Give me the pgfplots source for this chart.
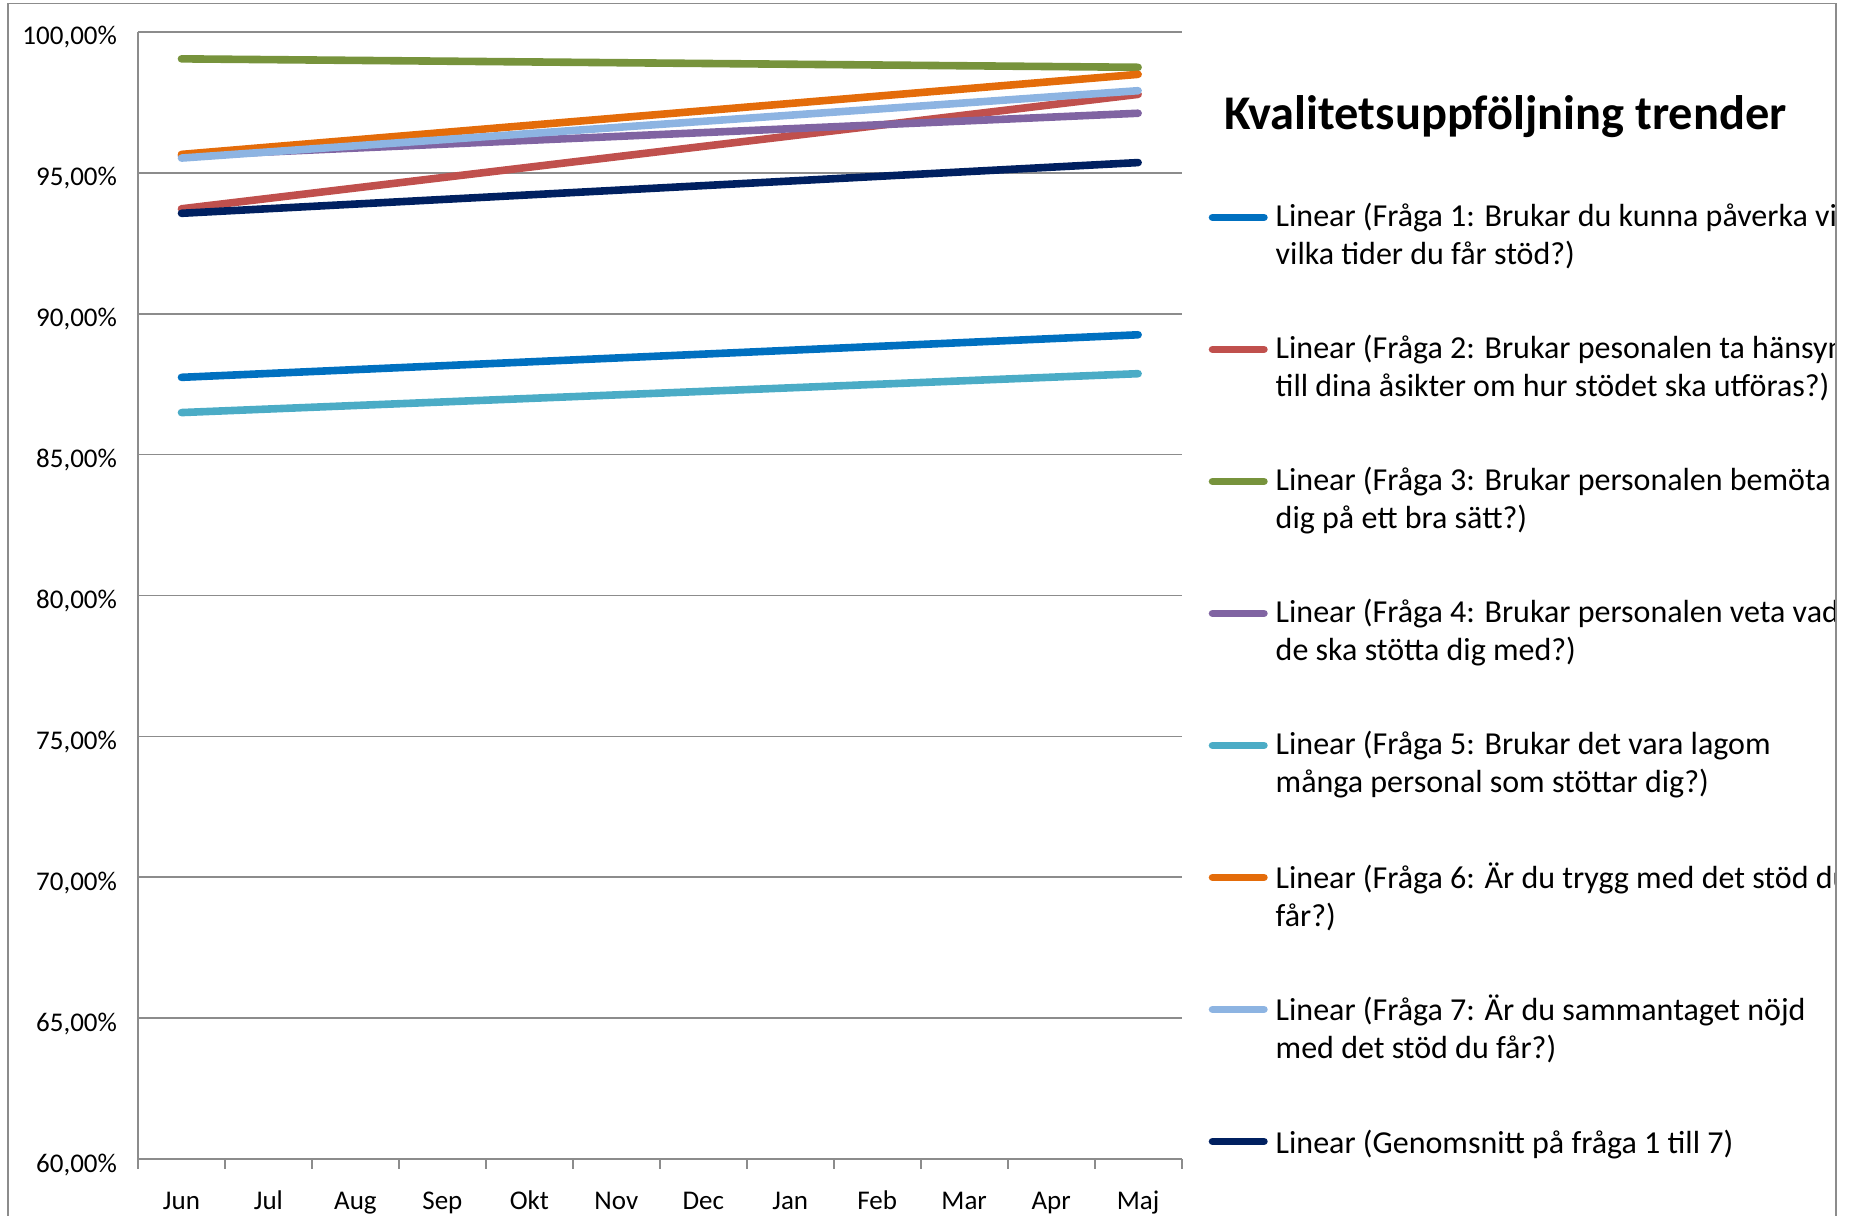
\documentclass[border=0pt]{standalone}
\usepackage{fontspec}
\setmainfont{Carlito}
\usepackage{pgfplots}
\pgfplotsset{compat=1.18}
\definecolor{q1}{HTML}{0070C0}
\definecolor{q2}{HTML}{C0504D}
\definecolor{q3}{HTML}{77933C}
\definecolor{q4}{HTML}{8064A2}
\definecolor{q5}{HTML}{4BACC6}
\definecolor{q6}{HTML}{E46C0A}
\definecolor{q7}{HTML}{8DB4E2}
\definecolor{avg}{HTML}{002060}
\definecolor{gridgray}{HTML}{8C8C8C}
\begin{document}
\begin{tikzpicture}
\useasboundingbox (0,0) rectangle (924.5pt,608pt);
\begin{scope}
\clip (0,0) rectangle (917.5pt,608pt);
\begin{axis}[
  at={(69pt,28.4pt)}, anchor=south west,
  scale only axis, width=521.8pt, height=563.7pt,
  xmin=0, xmax=12, ymin=60, ymax=100,
  axis lines*=left,
  axis line style={draw=gridgray, line width=0.9pt},
  ymajorgrids, grid style={draw=gridgray, line width=0.9pt},
  ytick={60,65,70,75,80,85,90,95,100},
  yticklabels={{60,00\%},{65,00\%},{70,00\%},{75,00\%},{80,00\%},{85,00\%},{90,00\%},{95,00\%},{100,00\%}},
  xtick={0.5,1.5,2.5,3.5,4.5,5.5,6.5,7.5,8.5,9.5,10.5,11.5},
  xticklabels={Jun,Jul,Aug,Sep,Okt,Nov,Dec,Jan,Feb,Mar,Apr,Maj},
  minor xtick={0,1,2,3,4,5,6,7,8,9,10,11,12},
  major tick length=0pt,
  minor tick length=4.7pt,
  tick align=outside,
  minor tick style={draw=gridgray, line width=0.9pt},
  ticklabel style={font=\fontsize{13.5}{16}\selectfont},
  yticklabel style={xshift=-7pt, yshift=-2.8pt},
  xticklabel style={yshift=-12.4pt, text height=9pt, text depth=2.5pt},
  clip=false,
  legend style={at={(1.0256,0.8774)}, anchor=north west, draw=none, fill=none,
    inner sep=0pt, row sep=0pt,
    nodes={font=\fontsize{16}{19}\selectfont, align=left, minimum height=66pt,
      inner xsep=0pt, text depth=, anchor=west}},
  legend cell align=left,
  legend image code/.code={\draw[#1, line width=3.8pt, line cap=round] (0pt,9.5pt) -- (25.7pt,9.5pt); \path (29.7pt,9.5pt);},
  every axis plot/.append style={line width=3.8pt, line cap=round},
]
\addplot[color=q1] coordinates {(0.5,87.74) (11.5,89.25)};
\addlegendentry{Linear (Fråga 1: Brukar du kunna påverka vid\\vilka tider du får stöd?)}
\addplot[color=q2] coordinates {(0.5,93.72) (11.5,97.78)};
\addlegendentry{Linear (Fråga 2: Brukar pesonalen ta hänsyn\\till dina åsikter om hur stödet ska utföras?)}
\addplot[color=q3] coordinates {(0.5,99.04) (11.5,98.74)};
\addlegendentry{Linear (Fråga 3: Brukar personalen bemöta\\dig på ett bra sätt?)}
\addplot[color=q4] coordinates {(0.5,95.60) (11.5,97.11)};
\addlegendentry{Linear (Fråga 4: Brukar personalen veta vad\\de ska stötta dig med?)}
\addplot[color=q5] coordinates {(0.5,86.49) (11.5,87.87)};
\addlegendentry{Linear (Fråga 5: Brukar det vara lagom\\många personal som stöttar dig?)}
\addplot[color=q6] coordinates {(0.5,95.65) (11.5,98.49)};
\addlegendentry{Linear (Fråga 6: Är du trygg med det stöd du\\får?)}
\addplot[color=q7] coordinates {(0.5,95.52) (11.5,97.91)};
\addlegendentry{Linear (Fråga 7: Är du sammantaget nöjd\\med det stöd du får?)}
\addplot[color=avg] coordinates {(0.5,93.56) (11.5,95.36)};
\addlegendentry{Linear (Genomsnitt på fråga 1 till 7)\\\mbox{}}
\end{axis}
\end{scope}
\node[anchor=base west, inner sep=0pt, font=\fontsize{24.2}{29}\selectfont\bfseries] at (612pt,543.1pt) {Kvalitetsuppföljning trender};
\draw[gridgray, line width=0.9pt] (4.1pt,-5pt) -- (4.1pt,606.2pt) -- (918pt,606.2pt) -- (918pt,-5pt);
\end{tikzpicture}
\end{document}
